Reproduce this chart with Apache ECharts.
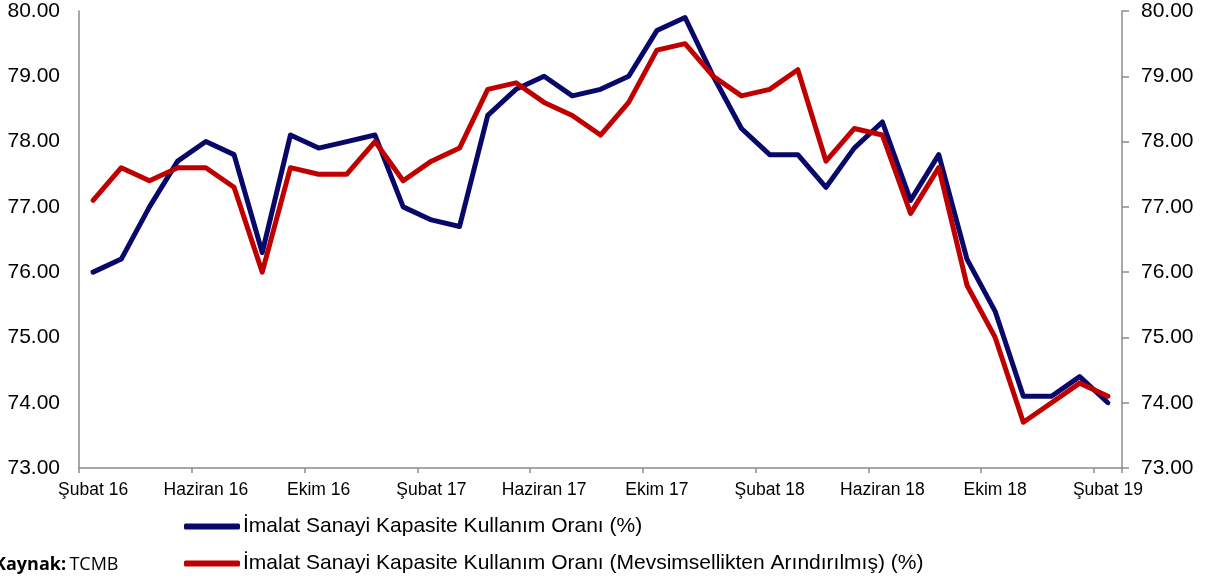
<!DOCTYPE html>
<html lang="tr">
<head>
    <meta charset="UTF-8">
    <title>Kapasite Kullanım Oranı</title>
    <style type="text/css">
        html, body { margin: 0; padding: 0; background: #fff; }
        #chart { width: 1212px; height: 580px; }
    </style>
</head>
<body>
<div id="chart"></div>
<script src="https://cdn.jsdelivr.net/npm/echarts@6.0.0/dist/echarts.min.js"></script>
<script>
    // aylar: Şubat 16 - Şubat 19
    var months = ['Şubat 16', 'Mart 16', 'Nisan 16', 'Mayıs 16', 'Haziran 16', 'Temmuz 16', 'Ağustos 16', 'Eylül 16',
        'Ekim 16', 'Kasım 16', 'Aralık 16', 'Ocak 17', 'Şubat 17', 'Mart 17', 'Nisan 17', 'Mayıs 17',
        'Haziran 17', 'Temmuz 17', 'Ağustos 17', 'Eylül 17', 'Ekim 17', 'Kasım 17', 'Aralık 17', 'Ocak 18',
        'Şubat 18', 'Mart 18', 'Nisan 18', 'Mayıs 18', 'Haziran 18', 'Temmuz 18', 'Ağustos 18', 'Eylül 18',
        'Ekim 18', 'Kasım 18', 'Aralık 18', 'Ocak 19', 'Şubat 19'];

    var kko = [76.0, 76.2, 77.0, 77.7, 78.0, 77.8, 76.3, 78.1, 77.9, 78.0, 78.1, 77.0,
        76.8, 76.7, 78.4, 78.8, 79.0, 78.7, 78.8, 79.0, 79.7, 79.9, 79.0, 78.2,
        77.8, 77.8, 77.3, 77.9, 78.3, 77.1, 77.8, 76.2, 75.4, 74.1, 74.1, 74.4, 74.0];

    var kkoMa = [77.1, 77.6, 77.4, 77.6, 77.6, 77.3, 76.0, 77.6, 77.5, 77.5, 78.0, 77.4,
        77.7, 77.9, 78.8, 78.9, 78.6, 78.4, 78.1, 78.6, 79.4, 79.5, 79.0, 78.7,
        78.8, 79.1, 77.7, 78.2, 78.1, 76.9, 77.6, 75.8, 75.0, 73.7, 74.0, 74.3, 74.1];

    var seriesNames = ['İmalat Sanayi Kapasite Kullanım Oranı (%)',
        'İmalat Sanayi Kapasite Kullanım Oranı (Mevsimsellikten Arındırılmış) (%)'];

    var yMin = 73, yMax = 80, yStep = 1;

    var myChart = echarts.init(document.getElementById('chart'));

    var yAxisBase = {
        type: 'value',
        min: yMin,
        max: yMax,
        interval: yStep,
        splitLine: { show: false },
        axisLine: { show: true, lineStyle: { color: '#8c8c8c', width: 1.5 } },
        axisLabel: {
            color: '#000',
            fontSize: 21,
            fontFamily: 'Liberation Sans, Arial, sans-serif',
            margin: 19,
            formatter: function (v) { return v.toFixed(2); }
        }
    };

    var option = {
        backgroundColor: '#fff',
        animation: false,
        color: ['#08086a', '#c00000'],
        grid: { left: 79, right: 90, top: 11, bottom: 112, containLabel: false },
        legend: {
            orient: 'vertical',
            left: 179,
            top: 511,
            itemGap: 16,
            itemWidth: 56,
            itemHeight: 6,
            itemStyle: { borderWidth: 0 },
            icon: 'roundRect',
            textStyle: { color: '#000', fontSize: 21, fontFamily: 'Liberation Sans, Arial, sans-serif', padding: [0, 0, 0, -2] },
            data: seriesNames
        },
        graphic: [{
            type: 'text',
            left: -6,
            top: 556,
            style: {
                text: '{b|Kaynak:} {n|TCMB}',
                rich: {
                    b: { fontWeight: 'bold', fontSize: 18, fontFamily: 'Open Sans, sans-serif', fill: '#000' },
                    n: { fontSize: 18, fontFamily: 'Open Sans, sans-serif', fill: '#000' }
                }
            }
        }],
        xAxis: {
            type: 'category',
            data: months,
            boundaryGap: true,
            axisLine: { lineStyle: { color: '#8c8c8c', width: 1.5 } },
            axisTick: { show: true, interval: 3, length: 5, lineStyle: { color: '#8c8c8c', width: 1.5 } },
            axisLabel: {
                interval: 3,
                color: '#000',
                fontSize: 17.5,
                fontFamily: 'Liberation Sans, Arial, sans-serif',
                margin: 13
            }
        },
        yAxis: [
            echarts.util.merge({ position: 'left', axisTick: { show: false } }, yAxisBase),
            echarts.util.merge({ position: 'right', axisTick: { show: true, length: 7, lineStyle: { color: '#8c8c8c', width: 1.5 } } }, yAxisBase)
        ],
        series: [{
            name: seriesNames[0],
            type: 'line',
            data: kko,
            symbol: 'none',
            lineStyle: { width: 5, join: 'round', cap: 'round' },
            z: 2
        }, {
            name: seriesNames[1],
            type: 'line',
            data: kkoMa,
            symbol: 'none',
            lineStyle: { width: 5, join: 'round', cap: 'round' },
            z: 3
        }]
    };

    myChart.setOption(option);
</script>
</body>
</html>
